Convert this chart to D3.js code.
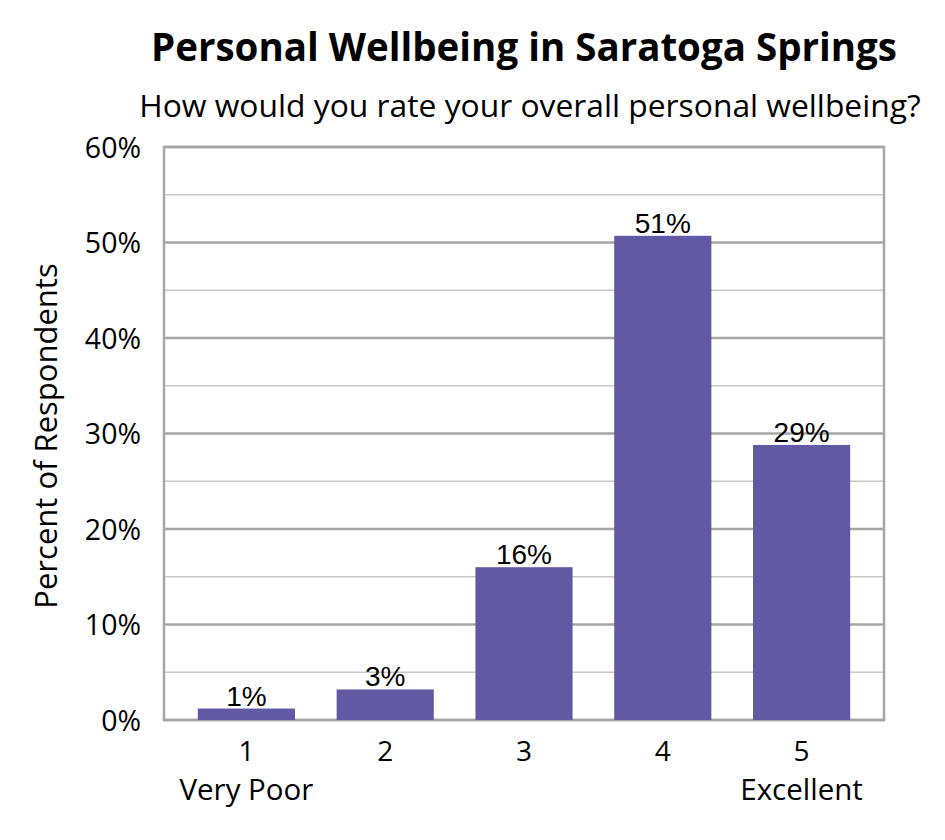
<!DOCTYPE html>
<html>
<head>
<meta charset="utf-8">
<script src="https://cdn.jsdelivr.net/npm/d3@7"></script>
<style>
  body { margin: 0; background: #fff; }
  text { fill: #000; }
</style>
</head>
<body>
<div id="chart"></div>
<script>
var categories = ["1", "2", "3", "4", "5"];
var catNotes = ["Very Poor", "", "", "", "Excellent"];
var values = [1.2, 3.2, 16.0, 50.7, 28.8];
var barLabels = ["1%", "3%", "16%", "51%", "29%"];
var yTicks = [0, 10, 20, 30, 40, 50, 60];
var yMinor = [5, 15, 25, 35, 45, 55];

var width = 945, height = 840;
var plotLeft = 164, plotRight = 884, plotTop = 147, plotBottom = 720;
var labelFont = "'Open Sans', Lato, sans-serif";

var svg = d3.select('#chart')
  .append('svg')
  .attr('width', width)
  .attr('height', height);

var y = d3.scaleLinear().domain([0, 60]).range([plotBottom, plotTop]);
var x = d3.scaleBand().domain(categories).range([177, 871]).paddingInner(0.3).paddingOuter(0.15);

// gridlines
svg.append('g').selectAll('line')
  .data(yMinor)
  .enter().append('line')
  .attr('x1', plotLeft).attr('x2', plotRight)
  .attr('y1', (d) => y(d)).attr('y2', (d) => y(d))
  .attr('stroke', '#c8c8c8').attr('stroke-width', 1.5);

svg.append('g').selectAll('line')
  .data(yTicks)
  .enter().append('line')
  .attr('x1', plotLeft).attr('x2', plotRight)
  .attr('y1', (d) => y(d)).attr('y2', (d) => y(d))
  .attr('stroke', '#a6a6a6').attr('stroke-width', 2.5);

// border
svg.append('rect')
  .attr('x', plotLeft).attr('y', plotTop)
  .attr('width', plotRight - plotLeft).attr('height', plotBottom - plotTop)
  .attr('fill', 'none')
  .attr('stroke', '#a6a6a6').attr('stroke-width', 2.5);

// bars
svg.append('g').selectAll('rect')
  .data(values)
  .enter().append('rect')
  .attr('x', (d, i) => x(categories[i]))
  .attr('width', x.bandwidth())
  .attr('y', (d) => y(d))
  .attr('height', (d) => plotBottom - y(d))
  .attr('fill', '#6159a3');

// bar labels
svg.append('g').selectAll('text')
  .data(values)
  .enter().append('text')
  .attr('x', (d, i) => x(categories[i]) + x.bandwidth() / 2)
  .attr('y', (d) => y(d) - 3)
  .attr('text-anchor', 'middle')
  .style('font-family', "'Liberation Sans', Arial, sans-serif")
  .style('font-size', '28px')
  .text((d, i) => barLabels[i]);

// y axis labels
var yAxis = d3.axisLeft(y).tickValues(yTicks).tickFormat((d) => d + '%').tickSize(0).tickPadding(23);
var yg = svg.append('g').attr('transform', 'translate(' + plotLeft + ',0)').call(yAxis);
yg.select('.domain').remove();
yg.selectAll('text')
  .style('font-family', labelFont)
  .style('font-size', '28.5px')
  .attr('dy', '0.36em');

// x axis labels
var xAxis = d3.axisBottom(x).tickSize(0);
var xg = svg.append('g').attr('transform', 'translate(0,' + plotBottom + ')').call(xAxis);
xg.select('.domain').remove();
xg.selectAll('text')
  .style('font-family', labelFont)
  .style('font-size', '28px')
  .attr('y', 41)
  .attr('dy', 0);

svg.append('g').selectAll('text')
  .data(catNotes)
  .enter().append('text')
  .attr('x', (d, i) => x(categories[i]) + x.bandwidth() / 2)
  .attr('y', 800)
  .attr('text-anchor', 'middle')
  .style('font-family', labelFont)
  .style('font-size', '29.5px')
  .text((d) => d);

// y axis title
svg.append('text')
  .attr('transform', 'translate(57,436) rotate(-90)')
  .attr('text-anchor', 'middle')
  .style('font-family', labelFont)
  .style('font-size', '31px')
  .text('Percent of Respondents');

// titles
svg.append('text')
  .attr('x', 524).attr('y', 61)
  .attr('text-anchor', 'middle')
  .style('font-family', labelFont)
  .style('font-weight', 'bold')
  .style('font-size', '38.5px')
  .text('Personal Wellbeing in Saratoga Springs');

svg.append('text')
  .attr('x', 530).attr('y', 117)
  .attr('text-anchor', 'middle')
  .style('font-family', labelFont)
  .style('font-size', '31.8px')
  .text('How would you rate your overall personal wellbeing?');
</script>
</body>
</html>
